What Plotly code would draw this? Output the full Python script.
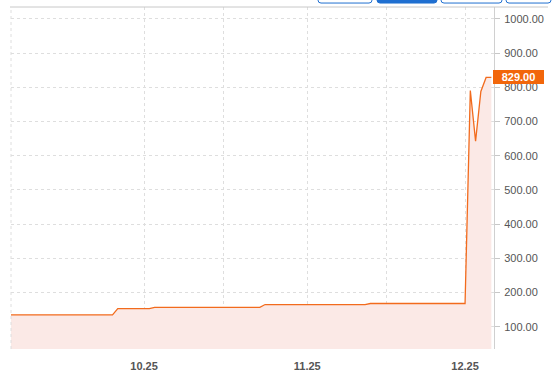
import plotly.graph_objects as go

# ---- data ----
dates = ["2025-09-05", "2025-09-25", "2025-09-26", "2025-10-02", "2025-10-03",
         "2025-10-23", "2025-10-24", "2025-11-12", "2025-11-13", "2025-12-01",
         "2025-12-02", "2025-12-03", "2025-12-04", "2025-12-05", "2025-12-06"]
values = [135, 135, 153, 153, 157, 157, 165, 165, 168, 168, 791, 643, 788, 829, 829]

x_tickvals = ["2025-10-01", "2025-11-01", "2025-12-01"]
x_ticktext = ["10.25", "11.25", "12.25"]
x_minor = ["2025-10-16", "2025-11-16"]
y_tickvals = [100, 200, 300, 400, 500, 600, 700, 800, 900, 1000]
last_label = "829.00"
last_value = 829

line_color = "#f26b1d"
fill_color = "#fbe9e6"
grid_color = "#dedede"
text_color = "#555555"
btn_blue = "#1f6fd1"

fig = go.Figure()
fig.add_trace(go.Scatter(
    x=dates, y=values, mode="lines",
    line=dict(color=line_color, width=1.3),
    fill="tozeroy", fillcolor=fill_color,
    hoverinfo="skip", showlegend=False,
))

W, H = 557, 379
ml, mr, mt, mb = 11, 63, 7, 27
pw = W - ml - mr
ph = H - mt - mb

def px_x(p):
    return (p - ml) / pw

def px_y(p):
    return 1 - (p - mt) / ph

shapes = []
# top border line
shapes.append(dict(type="line", xref="paper", yref="paper",
                   x0=px_x(10), x1=px_x(548), y0=1, y1=1,
                   line=dict(color="#c8c8c8", width=1)))
# left dotted border
shapes.append(dict(type="line", xref="paper", yref="paper",
                   x0=0, x1=0, y0=0, y1=1,
                   line=dict(color=grid_color, width=1, dash="dot")))
# partially visible buttons at top
buttons = [(318, 372, False), (377, 437, True), (441, 502, False), (506, 551, False)]
for x0, x1, filled in buttons:
    xa, xb = px_x(x0), px_x(x1)
    yb = px_y(3)
    yt = px_y(-6)
    r = px_x(x0 + 3) - xa
    rv = px_y(0) - px_y(3)
    path = (f"M {xa},{yt} L {xa},{yb + rv} Q {xa},{yb} {xa + r},{yb} "
            f"L {xb - r},{yb} Q {xb},{yb} {xb},{yb + rv} L {xb},{yt} Z")
    shapes.append(dict(type="path", xref="paper", yref="paper", path=path,
                       line=dict(color=btn_blue, width=1),
                       fillcolor=btn_blue if filled else "white"))

fig.update_layout(
    width=W, height=H,
    margin=dict(l=ml, r=mr, t=mt, b=mb, pad=0),
    paper_bgcolor="white", plot_bgcolor="white",
    font=dict(family="Liberation Sans, Arial, sans-serif", size=11, color=text_color),
    xaxis=dict(
        type="date",
        range=["2025-09-05 17:00", "2025-12-06 12:00"],
        tickmode="array", tickvals=x_tickvals, ticktext=x_ticktext,
        tickfont=dict(family="Liberation Sans, Arial, sans-serif", size=11,
                      color=text_color, weight="bold"),
        showgrid=True, gridcolor=grid_color, griddash="dot", gridwidth=1,
        minor=dict(tickmode="array", tickvals=x_minor, showgrid=True,
                   gridcolor=grid_color, griddash="dot", gridwidth=1),
        showline=False, zeroline=False, ticks="", ticklabelstandoff=9,
        fixedrange=True,
    ),
    yaxis=dict(
        side="right",
        range=[35, 1035],
        tickmode="array", tickvals=y_tickvals,
        tickformat=".2f",
        showgrid=True, gridcolor=grid_color, griddash="dot", gridwidth=1,
        showline=True, linecolor="#d0d0d0", linewidth=1,
        ticks="outside", ticklen=5, tickcolor="#c8c8c8",
        zeroline=False, ticklabelstandoff=2,
        fixedrange=True,
    ),
    shapes=shapes,
    annotations=[dict(
        xref="paper", yref="y", x=1, y=last_value, xshift=-1,
        xanchor="left", yanchor="middle",
        text=last_label, showarrow=False,
        font=dict(color="white", size=11, weight="bold",
                  family="Liberation Sans, Arial, sans-serif"),
        bgcolor="#f2660a", width=51, height=14, borderpad=0, borderwidth=0,
        align="center",
    )],
)

fig.write_html("out.html")
